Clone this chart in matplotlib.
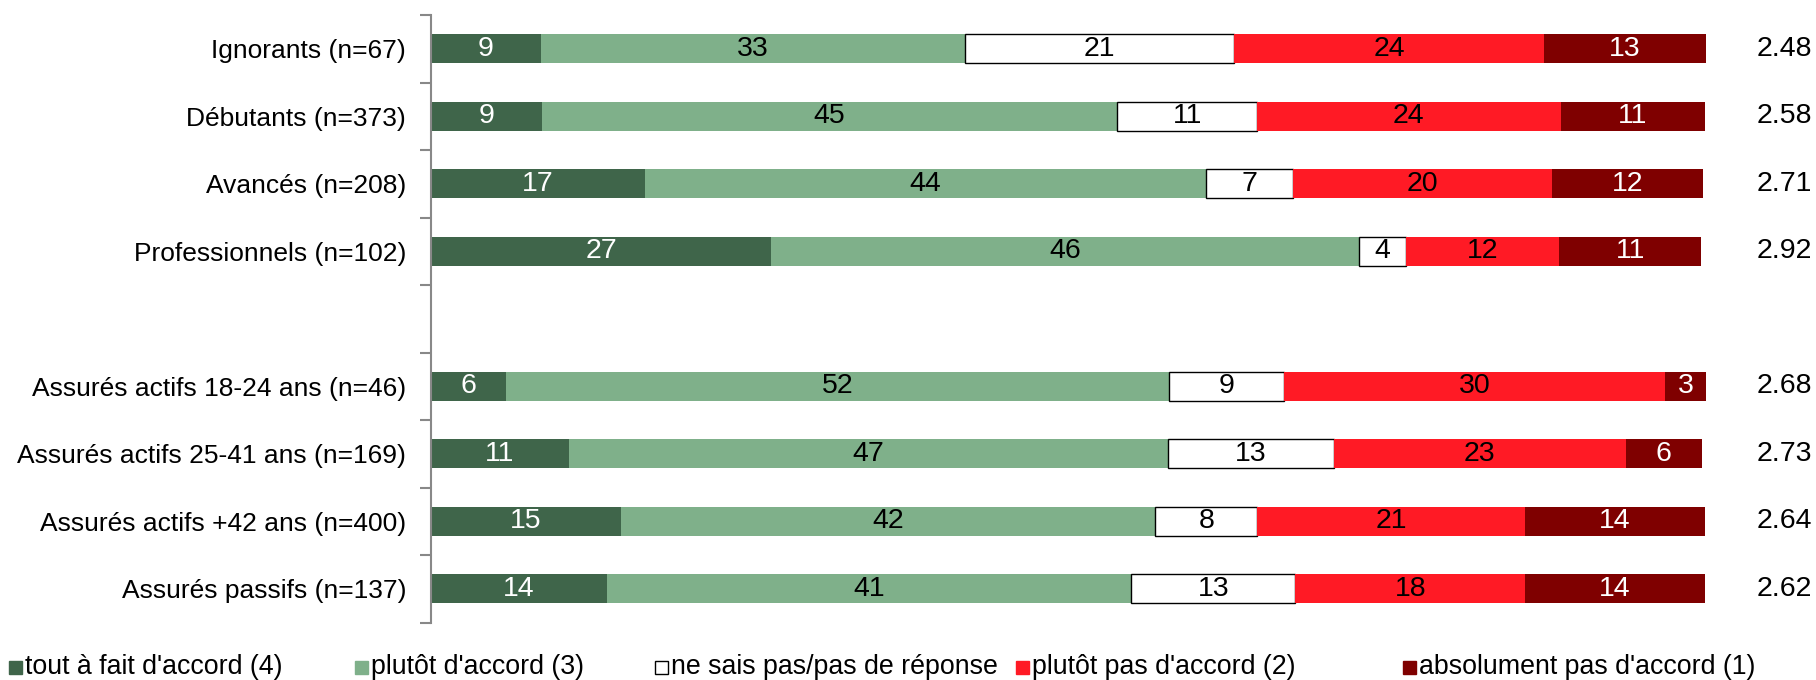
import matplotlib
matplotlib.use("Agg")
import matplotlib.pyplot as plt
from matplotlib.patches import Rectangle

plt.rcParams['font.family'] = ['Liberation Sans', 'DejaVu Sans']

categories = [
    "Ignorants (n=67)",
    "Débutants (n=373)",
    "Avancés (n=208)",
    "Professionnels (n=102)",
    "",
    "Assurés actifs 18-24 ans (n=46)",
    "Assurés actifs 25-41 ans (n=169)",
    "Assurés actifs +42 ans (n=400)",
    "Assurés passifs (n=137)",
]

series_names = [
    "tout à fait d'accord (4)",
    "plutôt d'accord (3)",
    "ne sais pas/pas de réponse",
    "plutôt pas d'accord (2)",
    "absolument pas d'accord (1)",
]

tout_a_fait = [8.6, 8.7, 16.8, 26.7, None, 5.9, 10.8, 14.9, 13.8]
plutot = [33.3, 45.1, 44.0, 46.1, None, 52.0, 47.0, 41.9, 41.1]
ne_sais_pas = [21.1, 11.0, 6.8, 3.7, None, 9.0, 13.0, 8.0, 12.9]
plutot_pas = [24.3, 23.8, 20.3, 12.0, None, 29.9, 22.9, 21.0, 18.0]
absolument_pas = [12.7, 11.3, 11.9, 11.1, None, 3.2, 6.0, 14.1, 14.1]

means = ["2.48", "2.58", "2.71", "2.92", "", "2.68", "2.73", "2.64", "2.62"]

series = [tout_a_fait, plutot, ne_sais_pas, plutot_pas, absolument_pas]
colors = ["#3F654A", "#7FB08A", "#FFFFFF", "#FF1A25", "#7F0000"]
text_colors = ["white", "black", "black", "black", "white"]
edge_colors = ["none", "none", "black", "none", "none"]

W, H = 1816, 680
fig = plt.figure(figsize=(W / 100, H / 100), dpi=100)
ax_left, ax_right = 431, 1706
ax_top, ax_bottom = 15, 622.5
ax = fig.add_axes([ax_left / W, 1 - ax_bottom / H, (ax_right - ax_left) / W, (ax_bottom - ax_top) / H])

n = len(categories)
fs = 19
fs_val = 20.5
bar_h = 0.43
for i in range(n):
    if series[0][i] is None:
        continue
    left = 0.0
    for s, vals in enumerate(series):
        v = vals[i]
        ax.barh(i, v, left=left, height=bar_h, color=colors[s],
                edgecolor=edge_colors[s], linewidth=1.0 if edge_colors[s] != "none" else 0)
        ax.text(left + v / 2, i, f"{v:.0f}", ha="center", va="center",
                color=text_colors[s], fontsize=fs_val)
        left += v

# means on right
mean_x = 1.0 + (1784 - ax_right) / (ax_right - ax_left)
for i in range(n):
    if means[i]:
        ax.text(mean_x, i, means[i], transform=ax.get_yaxis_transform(),
                ha="center", va="center", fontsize=fs_val)

ax.set_xlim(0, 100)
ax.set_ylim(n - 0.5, -0.5)

# major ticks at boundaries, labels at centers via minor ticks
ax.set_yticks([k - 0.5 for k in range(n + 1)])
ax.set_yticklabels([])
ax.set_yticks(list(range(n)), minor=True)
ax.set_yticklabels(categories, minor=True, fontsize=fs)
ax.tick_params(axis="y", which="major", length=8, width=1.5, color="#888888", direction="out")
ax.tick_params(axis="y", which="minor", length=0, pad=18)
ax.set_xticks([])

for side in ["top", "right", "bottom"]:
    ax.spines[side].set_visible(False)
ax.spines["left"].set_color("#888888")
ax.spines["left"].set_linewidth(1.5)

# legend (manual)
leg_x = [9, 355, 655, 1016, 1403]
leg_y = 667
sq = 13
for s, name in enumerate(series_names):
    x = leg_x[s]
    fig.patches.append(Rectangle((x / W, (H - leg_y - sq / 2) / H), sq / W, sq / H,
                                 transform=fig.transFigure, facecolor=colors[s],
                                 edgecolor="black" if colors[s] == "#FFFFFF" else colors[s],
                                 linewidth=1))
    fig.text((x + sq + 3) / W, (H - leg_y) / H, name, ha="left", va="center", fontsize=19.3)

fig.savefig("out.png", dpi=100)
